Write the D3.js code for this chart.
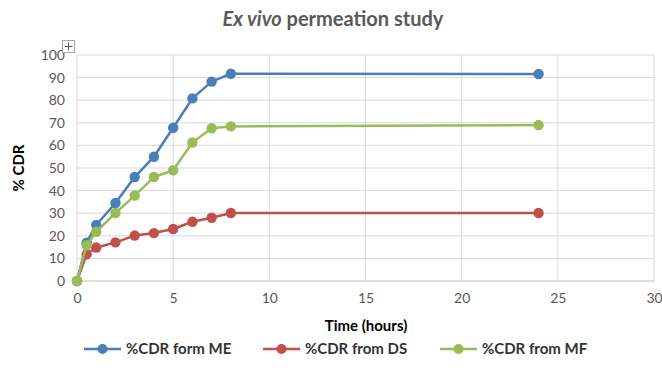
<!DOCTYPE html>
<html><head><meta charset="utf-8">
<script src="https://cdn.jsdelivr.net/npm/d3@7"></script>
<style>body{margin:0;background:#fff}svg{display:block}</style>
</head><body>
<svg id="c" width="662" height="385"></svg>
<script>
const times = [0, 0.5, 1, 2, 3, 4, 5, 6, 7, 8, 24];
const seriesNames = ["%CDR form ME", "%CDR from DS", "%CDR from MF"];
const meValues = [0, 17, 24.8, 34.5, 46, 55, 67.8, 80.8, 88.2, 91.7, 91.6];
const dsValues = [0, 11.8, 14.8, 17.1, 20.1, 21.2, 23, 26.2, 28, 30.1, 30.1];
const mfValues = [0, 15.8, 21.8, 30.1, 37.8, 46, 49, 61.3, 67.6, 68.4, 69];
const colors = ["#4A7EBB", "#C0504D", "#9BBB59"];
const xTicks = [0, 5, 10, 15, 20, 25, 30];
const yTicks = [0, 10, 20, 30, 40, 50, 60, 70, 80, 90, 100];

const svg = d3.select("#c");
const font = "Lato, 'Open Sans', sans-serif";
const m = {l: 77, r: 654, t: 55, b: 281};
const x = d3.scaleLinear().domain([0, 30]).range([m.l, m.r]);
const y = d3.scaleLinear().domain([0, 100]).range([m.b, m.t]);

// gridlines
svg.append("g").selectAll("line.h").data(yTicks).join("line")
  .attr("x1", m.l).attr("x2", m.r).attr("y1", d => y(d)).attr("y2", d => y(d))
  .attr("stroke", d => d === 0 ? "#bfbfbf" : "#d9d9d9").attr("stroke-width", 1);
svg.append("g").selectAll("line.v").data(xTicks).join("line")
  .attr("y1", m.t).attr("y2", m.b).attr("x1", d => x(d)).attr("x2", d => x(d))
  .attr("stroke", "#d9d9d9").attr("stroke-width", 1);

// axes via d3 axis, styled
const yAxis = svg.append("g").attr("transform", `translate(${m.l},0)`)
  .call(d3.axisLeft(y).tickValues(yTicks).tickSize(0).tickPadding(12));
const xAxis = svg.append("g").attr("transform", `translate(0,${m.b})`)
  .call(d3.axisBottom(x).tickValues(xTicks).tickSize(0).tickPadding(12));
[yAxis, xAxis].forEach(g => {
  g.select(".domain").remove();
  g.selectAll("text").attr("fill", "#595959").attr("font-size", 14).attr("font-family", font);
});

// title
const title = svg.append("text").attr("x", 333).attr("y", 26).attr("text-anchor", "middle")
  .attr("font-family", font).attr("font-size", 20).attr("fill", "#595959").attr("font-weight", 700);
title.append("tspan").attr("font-style", "italic").text("Ex vivo");
title.append("tspan").text(" permeation study");

// axis titles
svg.append("text").attr("transform", "translate(24,168) rotate(-90)").attr("text-anchor", "middle")
  .attr("font-family", font).attr("font-size", 15).attr("font-weight", 700).attr("fill", "#000").text("% CDR");
svg.append("text").attr("x", 366).attr("y", 331).attr("text-anchor", "middle")
  .attr("font-family", font).attr("font-size", 15).attr("font-weight", 700).attr("fill", "#000").text("Time (hours)");

// series
const allValues = [meValues, dsValues, mfValues];
const line = d3.line().x(d => x(d[0])).y(d => y(d[1]));
allValues.forEach((vals, i) => {
  const pts = times.map((t, j) => [t, vals[j]]);
  const g = svg.append("g");
  g.append("path").attr("d", line(pts)).attr("fill", "none").attr("stroke", colors[i])
    .attr("stroke-width", 2.5).attr("stroke-linejoin", "round");
  g.selectAll("circle").data(pts).join("circle")
    .attr("cx", d => x(d[0])).attr("cy", d => y(d[1])).attr("r", 5.2).attr("fill", colors[i]);
});

// legend
const legX = [84, 263, 440];
const lg = svg.append("g").selectAll("g").data(seriesNames).join("g")
  .attr("transform", (d, i) => `translate(${legX[i]},349)`);
lg.append("line").attr("x1", 0).attr("x2", 37).attr("y1", 0).attr("y2", 0)
  .attr("stroke", (d, i) => colors[i]).attr("stroke-width", 2.5);
lg.append("circle").attr("cx", 18.5).attr("cy", 0).attr("r", 5).attr("fill", (d, i) => colors[i]);
lg.append("text").attr("x", 42).attr("y", 5).attr("font-family", font).attr("font-size", 15)
  .attr("font-weight", 700).attr("fill", "#333").text(d => d);

// move handle icon
const ic = svg.append("g").attr("transform", "translate(62,40)");
ic.append("rect").attr("x", 0.5).attr("y", 0.5).attr("width", 12).attr("height", 12)
  .attr("fill", "#fff").attr("stroke", "#a6a6a6");
ic.append("path").attr("d", "M6.5 2.5V10.5M2.5 6.5H10.5").attr("stroke", "#595959").attr("stroke-width", 1);
</script>
</body></html>
